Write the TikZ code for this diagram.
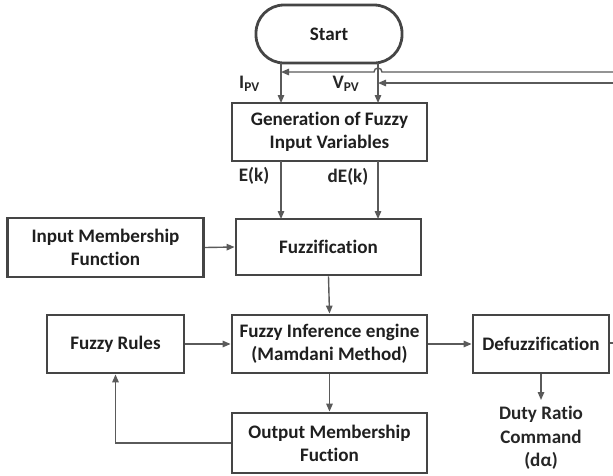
\documentclass[tikz,border=0pt]{standalone}
\usepackage{fontspec}
\setmainfont{Carlito}[Ligatures=NoCommon]
\usetikzlibrary{arrows.meta}
\definecolor{boxc}{HTML}{454545}
\definecolor{arrc}{HTML}{5A5A5A}
\begin{document}
\begin{tikzpicture}[x=1pt,y=-1pt,
  font=\fontsize{19.1}{23}\selectfont\bfseries,
  blk/.style={draw=boxc,line width=2.8pt,fill=white,align=center,inner sep=0pt,text=black!88},
  arr/.style={draw=arrc,line width=1.4pt,-{Triangle[length=8pt,width=6.5pt]}},
  ln/.style={draw=arrc,line width=1.4pt},
  lbl/.style={text=black!85,inner sep=0pt}]
\useasboundingbox (0,0) rectangle (613,475);
\node[blk,rounded corners=28pt,minimum width=146pt,minimum height=58pt] (start) at (329,34) {Start};
\node[blk,minimum width=195pt,minimum height=58pt] (gen) at (329.5,132) {Generation of Fuzzy\\Input Variables};
\node[blk,minimum width=185pt,minimum height=56pt] (fuzz) at (328.5,247) {Fuzzification};
\node[blk,minimum width=196pt,minimum height=59pt] (imf) at (105.5,247.5) {Input Membership\\Function};
\node[blk,minimum width=137pt,minimum height=58pt] (rules) at (115.5,344) {Fuzzy Rules};
\node[blk,minimum width=195pt,minimum height=58pt] (fie) at (329.5,344) {Fuzzy Inference engine\\(Mamdani Method)};
\node[blk,minimum width=136pt,minimum height=58pt] (defuz) at (541,344) {Defuzzification};
\node[blk,minimum width=195pt,minimum height=60pt] (omf) at (329.5,443) {Output Membership\\Fuction};
\node[lbl,align=center,font=\fontsize{19.1}{23.5}\selectfont\bfseries] (duty) at (541,438) {Duty Ratio\\Command\\(dα)};
\coordinate (dutytop) at (541,400);
% I_PV and V_PV
\coordinate (ipvtop) at (281,63);
\coordinate (vpvtop) at (378,63);
\coordinate (ipvbot) at (281,103);
\coordinate (vpvbot) at (378,103);
\draw[arr] (ipvtop) -- (ipvbot);
\draw[arr] (vpvtop) -- (vpvbot);
\node[lbl] (ipv) at (249.5,84) {I\textsubscript{PV}};
\node[lbl] (vpv) at (346,84) {V\textsubscript{PV}};
\coordinate (r1) at (613,72);
\coordinate (r2) at (613,83);
\coordinate (hopR) at (382,72);
\coordinate (ipvhit) at (281,72);
\coordinate (vpvhit) at (378,83);
\draw[arr] (r1) -- (hopR) arc[start angle=0,end angle=180,radius=4pt] -- (ipvhit);
\draw[arr] (r2) -- (vpvhit);
% E(k), dE(k)
\coordinate (ek1) at (281,161);
\coordinate (ek2) at (281,219);
\coordinate (de1) at (378,161);
\coordinate (de2) at (378,219);
\draw[arr] (ek1) -- (ek2);
\draw[arr] (de1) -- (de2);
\node[lbl] (ek) at (254,176) {E(k)};
\node[lbl] (dek) at (348,177) {dE(k)};
% other connectors
\draw[arr] (imf.east) -- (fuzz.west);
\draw[arr] (fuzz.south) -- (fie.north);
\draw[arr] (rules.east) -- (fie.west);
\draw[arr] (fie.east) -- (defuz.west);
\draw[arr] (fie.south) -- (omf.north);
\draw[arr] (defuz.south) -- (dutytop);
\draw[arr] (omf.west) -| (rules.south);
\coordinate (stub) at (613,343);
\draw[ln] (defuz.east |- stub) -- (stub);
\end{tikzpicture}
\end{document}
